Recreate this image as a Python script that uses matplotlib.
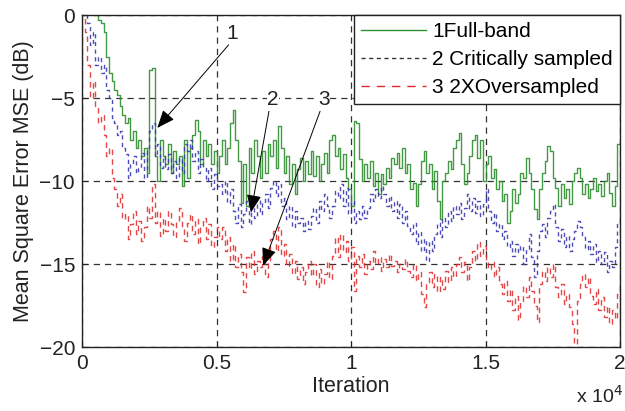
import numpy as np
import matplotlib
matplotlib.use('Agg')
import matplotlib.pyplot as plt
from matplotlib.lines import Line2D

plt.rcParams['font.family'] = ['Liberation Sans', 'DejaVu Sans']

# iterações de 0 a 20000, passo 100
iteracoes = np.arange(0, 20001, 100)

# 1 Full-band (dB)
full_band = [
    1, 1, 1, 1, 1, 1, -0.3, -0.5, -1, -2.5,
    -3.5, -4, -4.5, -4.8, -5.5, -6, -6.5, -6.2, -7.5, -7,
    -8, -7.5, -8.5, -8, -9.5, -3.3, -3.2, -8.5, -10, -7.5,
    -8.5, -9, -7.8, -9.5, -8.2, -9, -8.5, -10.3, -7.5, -9.8,
    -8, -7.2, -6.3, -7, -9, -7.5, -8.5, -7.8, -9, -8.2,
    -9.5, -8.5, -7.5, -9, -8, -6.5, -5.7, -7.5, -8.8, -11.3,
    -9, -11.5, -8, -9.5, -7.5, -8.5, -9.8, -8.2, -9.5, -7.8,
    -8.5, -7.5, -9.2, -6.7, -8, -9.5, -8.5, -10.2, -9, -10.8,
    -9.3, -8.6, -10, -8.8, -9.6, -8.2, -9.7, -8.5, -10, -9,
    -8.3, -9.5, -7.5, -7.2, -8.5, -8, -9.3, -8.4, -9.8, -10.5,
    -11.5, -6.4, -6.5, -8.7, -10, -9, -9.8, -8.8, -10.3, -9.5,
    -10.8, -9.6, -10.2, -9.2, -9.8, -8.6, -9, -8.3, -9.2, -8,
    -9.5, -9, -10.5, -10.1, -11.5, -10.2, -8.8, -8.2, -9.5, -9,
    -10.5, -9.4, -11.2, -12.3, -10, -9.5, -8.8, -9.3, -8, -7.5,
    -7.1, -9, -10.2, -9.5, -8.5, -7.5, -7.2, -8.6, -7.5, -10,
    -9, -8.5, -9.8, -9.3, -10.5, -10, -11.2, -10.8, -12.5, -11.8,
    -10.5, -11.3, -10.8, -9.5, -9.8, -8.6, -9.5, -10.5, -11.7, -12.3,
    -10.5, -9.5, -8.8, -7.9, -8.2, -9.8, -10.4, -11.5, -10.2, -11,
    -10.5, -11.4, -10, -9.5, -9.2, -9.8, -10.8, -10.2, -11, -10.5,
    -9.8, -10.6, -10.2, -10.9, -10, -9.5, -10.7, -11.5, -10.3, -7.8,
    -7.6,
]

# 2 Critically sampled (dB)
critico = [
    1, 1, -0.5, -1.8, -1, -3, -2.5, -3.5, -3, -4.5,
    -5, -6.2, -6.5, -7.2, -7, -8, -8.4, -9.8, -9, -8.5,
    -9.5, -9.2, -8.3, -9.8, -8, -7, -6.5, -8.5, -7.8, -9.2,
    -8.5, -9.3, -8.4, -9.5, -8.8, -9.8, -8.6, -9.5, -7.8, -8.2,
    -7.5, -8.8, -8.2, -9.5, -8.7, -9.2, -10, -9.2, -10.5, -9.6,
    -10.3, -10.2, -10.8, -10, -11.3, -10.5, -11.8, -12.5, -11.4, -12.8,
    -12, -11.2, -12.6, -11.5, -12.2, -11, -12, -11.3, -10.8, -11.6,
    -10.4, -10, -10.9, -10.2, -11.5, -11, -12.3, -11.5, -12.8, -11.8,
    -12.5, -12.2, -13, -12.4, -12.9, -12.1, -11.6, -12.5, -11.2, -11.8,
    -10.8, -11.5, -12.2, -11.5, -10.6, -11, -10.2, -11.5, -10.4, -12,
    -11.2, -12.5, -11.8, -12.3, -11.5, -12.2, -11.6, -10.8, -11.2, -10.5,
    -11, -10.3, -10.8, -11.5, -10.9, -11.8, -11.2, -12.2, -11.4, -12.5,
    -11.8, -12.7, -13.2, -12.5, -13.8, -13.1, -14.2, -13.5, -14.8, -13.6,
    -14.2, -13.2, -12.5, -13.4, -12.2, -12.8, -11.8, -12.4, -11.5, -12,
    -11.3, -12.3, -11.6, -10.8, -11.8, -11, -11.9, -11.2, -12.1, -11.4,
    -10.5, -11.8, -12.5, -11.9, -13, -12.6, -13.5, -13, -14, -13.6,
    -14.5, -13.8, -14.3, -13.9, -15, -14.1, -13.2, -14.6, -15.8, -14.2,
    -13, -12.6, -13.4, -12.2, -11.8, -11.4, -12.8, -13.6, -12.9, -14,
    -13.3, -14.2, -13.5, -13, -12.4, -12.8, -13.4, -14.1, -13.6, -14.4,
    -13.8, -14.9, -14.2, -15, -14.3, -15.5, -14.8, -15.2, -14, -12.5,
    -12.2,
]

# 3 2X Oversampled (dB)
oversampled = [
    1, -1, -3, -5, -4, -5.5, -6.5, -6, -7.2, -8.5,
    -8, -9.8, -10.5, -11.5, -10.8, -12.3, -12, -13.5, -12.6, -11.8,
    -13.2, -12.4, -13.6, -12.8, -11.5, -12.2, -10.2, -12.5, -11.8, -13.3,
    -12.2, -13, -11.8, -12.6, -13.4, -12.4, -11.6, -12.8, -13.6, -12.5,
    -12, -13.2, -12.3, -13.8, -12.8, -12.2, -13.5, -12.6, -14, -13.4,
    -12.8, -13.5, -12.8, -14.2, -13.4, -14.8, -13.8, -15.2, -14.4, -15.5,
    -16.7, -14.6, -15.3, -14.2, -15.6, -14.8, -15.2, -14.5, -15.8, -14.9,
    -13.5, -13, -14.2, -12.8, -14.5, -13.8, -15.1, -14.4, -15.6, -14.8,
    -15.9, -15.2, -16.2, -15.5, -14.8, -15.7, -15, -16.4, -15.3, -16.2,
    -15.6, -14.8, -15.9, -14.5, -13.4, -14.6, -13.2, -14.3, -13.6, -14.8,
    -14, -16.6, -14.5, -15.2, -14.4, -15.6, -14.8, -15.3, -14.2, -15,
    -14.6, -15.4, -14.7, -15.2, -14.4, -15.1, -14.8, -15.5, -15, -15.3,
    -14.7, -15.4, -15.8, -15, -16, -15.5, -16.8, -17.6, -16.2, -15.5,
    -16.4, -15.6, -16.7, -15.8, -16.5, -15.4, -16.1, -15.2, -15.8, -15,
    -14.6, -15.5, -14.9, -16, -15.2, -14.2, -14.8, -13.7, -14.5, -13.9,
    -14.8, -15.3, -14.9, -15.8, -15.2, -16.2, -16.8, -16, -17.2, -16.5,
    -17.8, -16.9, -18.4, -17.2, -16.3, -17, -15.8, -16.6, -17.5, -18.5,
    -16.2, -15.4, -16, -15.2, -15.8, -15, -16.4, -17, -16.2, -17.4,
    -16.8, -17.6, -18.6, -19.8, -17.2, -16.2, -15.6, -16.4, -15.8, -16.9,
    -17.4, -16.5, -17.8, -17, -18.2, -17.5, -18.6, -17.8, -18.3, -16.8,
    -16.2,
]

legendas = ['1Full-band', '2 Critically sampled', '3 2XOversampled']
xticks = [0, 5000, 10000, 15000, 20000]
xticklabels = ['0', '0.5', '1', '1.5', '2']
yticks = [0, -5, -10, -15, -20]

# setas: rótulo, posição do texto, ponta da seta
setas = [
    ('1', (5600, -1.1), (2800, -6.8)),
    ('2', (7100, -5.1), (6280, -11.9)),
    ('3', (9000, -5.1), (6730, -15.1)),
]

fig = plt.figure(figsize=(6.25, 4.11), dpi=100)
ax = fig.add_axes([0.1312, 0.1557, 0.8608, 0.8078])

ax.plot(iteracoes, full_band, color='#2f8f2f', lw=1.0, drawstyle='steps-post', alpha=0.9)
ax.plot(iteracoes, critico, color='#3a3ab0', lw=1.0, ls=(0, (3, 2.5)), drawstyle='steps-post', alpha=0.9)
ax.plot(iteracoes, oversampled, color='#e02828', lw=1.0, ls=(0, (4, 3)), drawstyle='steps-post', alpha=0.85)

ax.set_xlim(0, 20000)
ax.set_ylim(-20, 0)
ax.set_xticks(xticks)
ax.set_xticklabels(xticklabels)
ax.set_yticks(yticks)
ax.tick_params(direction='in', length=4, labelsize=15, colors='#222222', pad=5)
for s in ax.spines.values():
    s.set_linewidth(1.0)
    s.set_color('#222222')

ax.grid(True, color='#333333', ls=(0, (5, 4)), lw=0.9)
ax.set_axisbelow(True)

ax.set_xlabel('Iteration', fontsize=15.5, color='#222222', labelpad=2)
ax.set_ylabel('Mean Square Error MSE (dB)', fontsize=15.5, color='#222222', labelpad=4)
fig.text(0.997, 0.01, r'x 10$^4$', fontsize=14, color='#222222', ha='right', va='bottom')

for rotulo, pos_txt, ponta in setas:
    ax.annotate('', xy=ponta, xytext=(pos_txt[0] - 150, pos_txt[1] - 0.7),
                arrowprops=dict(arrowstyle='-|>,head_length=1.1,head_width=0.45',
                                color='black', lw=0.7, shrinkA=0, shrinkB=0))
    ax.text(pos_txt[0], pos_txt[1], rotulo, fontsize=15, ha='center', va='center',
            color='#222222', bbox=dict(facecolor='white', edgecolor='none', pad=0.3))

handles = [
    Line2D([], [], color='#2f8f2f', lw=1),
    Line2D([], [], color='#333333', lw=1, ls=(0, (3, 2.5))),
    Line2D([], [], color='#e02828', lw=1, ls=(0, (6, 5))),
]
leg = ax.legend(handles, legendas, loc='upper right', bbox_to_anchor=(1, 1),
                borderaxespad=0, fancybox=False, framealpha=1, edgecolor='#222222',
                fontsize=15, handlelength=3.1, handletextpad=0.3, labelspacing=0.42,
                borderpad=0.35)
leg.get_frame().set_linewidth(1.0)

fig.savefig('out.png', dpi=100)
